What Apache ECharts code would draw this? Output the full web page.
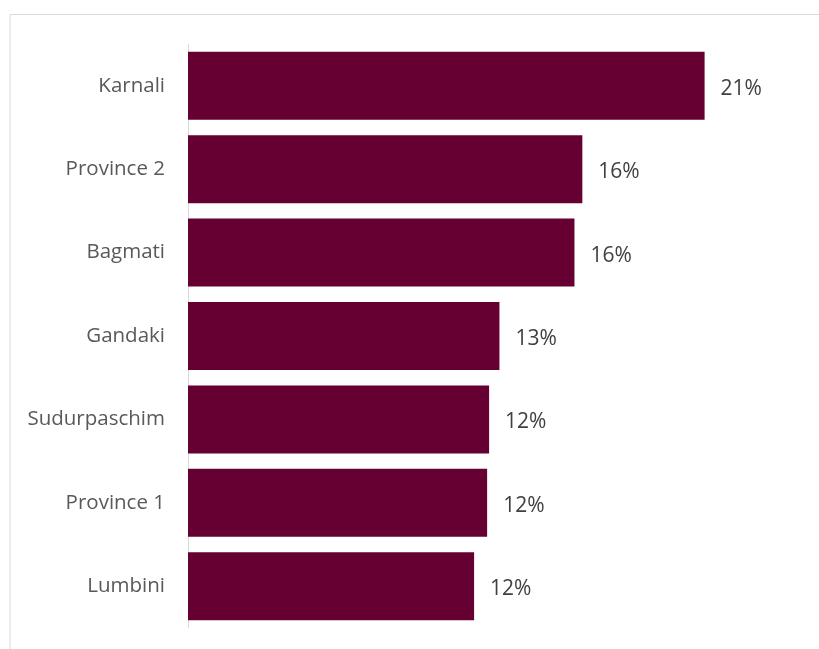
<!DOCTYPE html>
<html>
<head>
<meta charset="utf-8">
<script src="https://cdn.jsdelivr.net/npm/echarts@6/dist/echarts.min.js"></script>
<style>
  html, body { margin: 0; padding: 0; background: #ffffff; }
  #chart { width: 819px; height: 649px; }
</style>
</head>
<body>
<div id="chart"></div>
<script>
// Provinces, listed top to bottom
const provinces = ['Karnali', 'Province 2', 'Bagmati', 'Gandaki', 'Sudurpaschim', 'Province 1', 'Lumbini'];
// Share per province (fraction)
const shares = [0.2100, 0.1603, 0.1571, 0.1266, 0.1224, 0.1216, 0.1163];

const chart = echarts.init(document.getElementById('chart'), null, { renderer: 'canvas' });

chart.setOption({
  animation: false,
  backgroundColor: '#ffffff',
  graphic: [{
    type: 'rect',
    shape: { x: 10, y: 14.5, width: 830, height: 660 },
    style: { fill: 'none', stroke: '#d9d9d9', lineWidth: 1 },
    silent: true
  }],
  grid: { left: 188, top: 44, width: 615, height: 584, containLabel: false },
  xAxis: {
    type: 'value',
    min: 0,
    max: 0.25,
    show: false
  },
  yAxis: {
    type: 'category',
    data: provinces,
    inverse: true,
    axisLine: { show: true, lineStyle: { color: '#d9d9d9', width: 1 } },
    axisTick: { show: false },
    axisLabel: {
      color: '#595959',
      fontFamily: 'Open Sans',
      fontSize: 20.5,
      margin: 23,
      padding: [7, 0, 0, 0]
    },
    splitLine: { show: false }
  },
  series: [{
    type: 'bar',
    data: shares,
    barWidth: '81.5%',
    itemStyle: { color: '#660033' },
    label: {
      show: true,
      position: 'right',
      distance: 16,
      offset: [0, 3],
      color: '#404040',
      fontFamily: 'Open Sans',
      fontSize: 21,
      formatter: p => Math.round(p.value * 100) + '%'
    }
  }]
});
</script>
</body>
</html>
